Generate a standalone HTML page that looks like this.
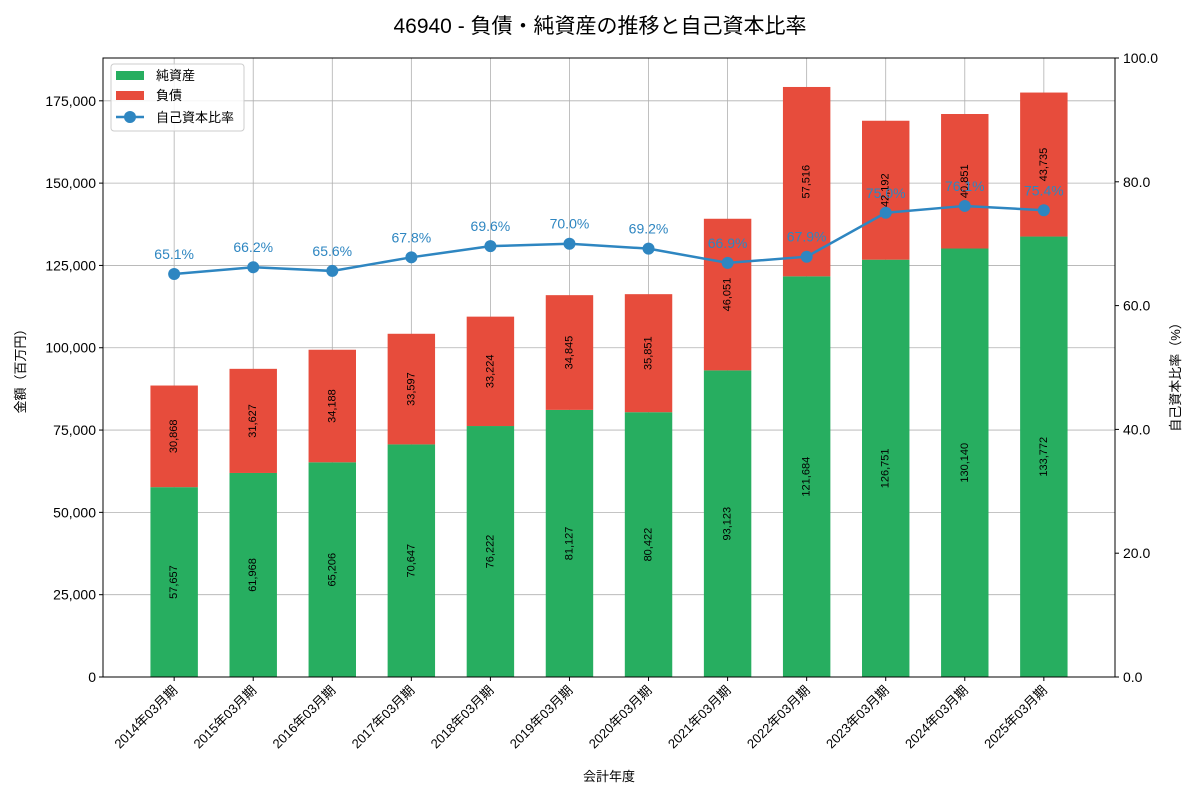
<!DOCTYPE html>
<html><head><meta charset="utf-8"><style>
body{margin:0;background:#fff;}
svg text{font-family:"Liberation Sans","Noto Sans CJK JP",sans-serif;}
</style></head><body>
<svg id="chart" width="1200" height="800" xmlns="http://www.w3.org/2000/svg">
<text x="600" y="33" text-anchor="middle" font-size="21" fill="#000">46940 - 負債・純資産の推移と自己資本比率</text>
<g id="grid"></g><g id="bars"></g><g id="line"></g><g id="axes"></g>
</svg>
<script>
const categories=["2014年03月期","2015年03月期","2016年03月期","2017年03月期","2018年03月期","2019年03月期","2020年03月期","2021年03月期","2022年03月期","2023年03月期","2024年03月期","2025年03月期"];
const netAssets=[57657,61968,65206,70647,76222,81127,80422,93123,121684,126751,130140,133772];
const liabilities=[30868,31627,34188,33597,33224,34845,35851,46051,57516,42192,40851,43735];
const equityRatio=[65.1,66.2,65.6,67.8,69.6,70.0,69.2,66.9,67.9,75.0,76.1,75.4];
const leftTicks=[0,25000,50000,75000,100000,125000,150000,175000];
const rightTicks=[0,20,40,60,80,100];

const L=103,R=1115,T=58,B=677;
const NS="http://www.w3.org/2000/svg";
const step=(R-L)/(categories.length+0.8);
const xS=i=>L+(i+0.9)*step;
const yL=v=>B-v/188000*(B-T);
const yR=v=>B-v/100*(B-T);
function mk(tag,attrs,parent,txt){const e=document.createElementNS(NS,tag);for(const k in attrs)e.setAttribute(k,attrs[k]);if(txt!==undefined)e.textContent=txt;document.getElementById(parent).appendChild(e);return e;}
const fmt=v=>v.toLocaleString("en-US");

categories.forEach((c,i)=>{
  const g=mk("line",{x1:xS(i),x2:xS(i),y1:T,y2:B,stroke:"#b0b0b0","stroke-width":0.8},"grid");
  
  
});
leftTicks.forEach(v=>{
  const g=mk("line",{x1:L,x2:R,y1:yL(v),y2:yL(v),stroke:"#b0b0b0","stroke-width":0.8},"grid");
  
  
});
const bw=step*0.6;
categories.forEach((c,i)=>{
  const x=xS(i)-bw/2;
  const g=mk("rect",{x:x,y:yL(netAssets[i]),width:bw,height:B-yL(netAssets[i]),fill:"#27ae60"},"bars");
  
  
  const tot=netAssets[i]+liabilities[i];
  const r=mk("rect",{x:x,y:yL(tot),width:bw,height:yL(netAssets[i])-yL(tot),fill:"#e74c3c"},"bars");
  
  
  const m1=(B+yL(netAssets[i]))/2, m2=(yL(netAssets[i])+yL(tot))/2;
  const t1=mk("text",{x:xS(i),y:m1,"font-size":11,"text-anchor":"middle","dominant-baseline":"central",transform:`rotate(-90 ${xS(i)} ${m1})`},"bars",fmt(netAssets[i]));
  
  
  const t2=mk("text",{x:xS(i),y:m2,"font-size":11,"text-anchor":"middle","dominant-baseline":"central",transform:`rotate(-90 ${xS(i)} ${m2})`},"bars",fmt(liabilities[i]));
  
  
});
const pts=equityRatio.map((v,i)=>xS(i)+","+yR(v)).join(" ");
const pl=mk("polyline",{points:pts,fill:"none",stroke:"#2e86c1","stroke-width":2.5},"line");


equityRatio.forEach((v,i)=>{
  const c=mk("circle",{cx:xS(i),cy:yR(v),r:6,fill:"#2e86c1"},"line");
  
  
  const t=mk("text",{x:xS(i),y:yR(v)-15,"font-size":14,"text-anchor":"middle",fill:"#2e86c1"},"line",v.toFixed(1)+"%");
  
  
});
const fr=mk("rect",{x:L,y:T,width:R-L,height:B-T,fill:"none",stroke:"#000","stroke-width":1},"axes");


leftTicks.forEach(v=>{
  const tk=mk("line",{x1:L-4,x2:L,y1:yL(v),y2:yL(v),stroke:"#000"},"axes");
  
  
  const t=mk("text",{x:L-7,y:yL(v)+5,"font-size":14,"text-anchor":"end"},"axes",fmt(v));
  
  
});
rightTicks.forEach(v=>{
  const tk=mk("line",{x1:R,x2:R+4,y1:yR(v),y2:yR(v),stroke:"#000"},"axes");
  
  
  const t=mk("text",{x:R+8,y:yR(v)+5,"font-size":14},"axes",v.toFixed(1));
  
  
});
categories.forEach((c,i)=>{
  const tk=mk("line",{x1:xS(i),x2:xS(i),y1:B,y2:B+4,stroke:"#000"},"axes");
  
  
  const x=xS(i)+4,y=B+14;
  const t=mk("text",{x:x,y:y,"font-size":13,"text-anchor":"end",transform:`rotate(-45 ${x} ${y})`},"axes",c);
  
  
});
</script>
<svg width="1200" height="800" style="position:absolute;left:0;top:0" xmlns="http://www.w3.org/2000/svg">
<text x="609" y="781" font-size="13" text-anchor="middle">会計年度</text>
<text x="25" y="368" font-size="13" text-anchor="middle" transform="rotate(-90 25 368)">金額（百万円）</text>
<text x="1180" y="374" font-size="13" text-anchor="middle" transform="rotate(-90 1180 374)">自己資本比率（%）</text>
<g>
<rect x="111" y="64" width="133" height="67" rx="3" fill="#fff" fill-opacity="0.85" stroke="#ccc"/>
<rect x="116" y="71" width="28" height="9" fill="#27ae60"/>
<text x="156" y="80" font-size="13">純資産</text>
<rect x="116" y="91" width="28" height="9" fill="#e74c3c"/>
<text x="156" y="100" font-size="13">負債</text>
<line x1="116" x2="144" y1="117" y2="117" stroke="#2e86c1" stroke-width="2.5"/>
<circle cx="130" cy="117" r="6" fill="#2e86c1"/>
<text x="156" y="122" font-size="13">自己資本比率</text>
</g>
</svg>
</body></html>
